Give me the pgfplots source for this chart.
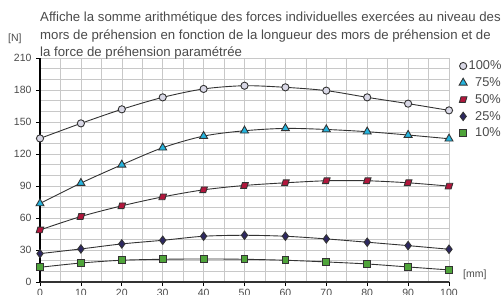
\documentclass[border=0pt]{standalone}
\usepackage{pgfplots}
\pgfplotsset{compat=1.18}
\usepackage{fontspec}
\setmainfont{Liberation Sans}
\definecolor{txt}{HTML}{4A4A4A}
\definecolor{gridc}{HTML}{C8C8C8}
\definecolor{c100}{HTML}{D9D8E6}
\definecolor{c75}{HTML}{25B4DE}
\definecolor{c50}{HTML}{B2163C}
\definecolor{c25}{HTML}{2D2862}
\definecolor{c10}{HTML}{4FA43A}
\definecolor{linec}{HTML}{333333}
\pgfdeclareplotmark{para}{%
  \pgfpathmoveto{\pgfqpoint{-1.0\pgfplotmarksize}{-0.75\pgfplotmarksize}}%
  \pgfpathlineto{\pgfqpoint{0.55\pgfplotmarksize}{-0.75\pgfplotmarksize}}%
  \pgfpathlineto{\pgfqpoint{1.0\pgfplotmarksize}{0.75\pgfplotmarksize}}%
  \pgfpathlineto{\pgfqpoint{-0.55\pgfplotmarksize}{0.75\pgfplotmarksize}}%
  \pgfpathclose\pgfusepathqfillstroke}
\pgfplotstableread{
x  a100  a75   a50   a25   a10
0  134.6 73.6  48.8  26.6  13.8
10 148.7 92.7  61.4  31.0  17.8
20 161.9 109.9 71.4  35.7  20.4
30 173.1 125.9 79.8  39.1  21.3
40 181.0 136.8 86.4  42.9  21.6
50 184.0 141.8 90.5  43.8  21.3
60 182.5 144.0 93.0  42.9  20.4
70 179.4 143.0 94.9  40.4  18.8
80 173.1 140.9 94.9  37.3  16.9
90 167.2 137.8 93.0  34.1  14.1
100 160.9 134.3 89.9 30.7  11.3
}\data
\begin{document}
\begin{tikzpicture}[font=\fontsize{13.2bp}{15bp}\selectfont]
\path[use as bounding box] (0,0) rectangle (504bp,295bp);
\begin{axis}[
  at={(40bp,13bp)}, anchor=south west,
  scale only axis, width=409bp, height=224bp,
  xmin=0, xmax=100, ymin=0, ymax=210,
  xtick={0,10,...,100}, ytick={0,30,...,210},
  minor x tick num=1, minor y tick num=2,
  grid=both,
  major grid style={gridc, line width=0.6bp},
  minor grid style={gridc, line width=0.6bp},
  axis x line=bottom, axis y line=left,
  x axis line style={-, linec, line width=1.2bp},
  y axis line style={-, black, line width=1.4bp},
  tick align=outside,
  major tick length=4bp, minor tick length=0pt,
  tick style={black, line width=0.8bp},
  ticklabel style={text=txt, font=\fontsize{10.5bp}{12bp}\selectfont},
  /pgf/number format/assume math mode=true,
  yticklabel style={xshift=-1bp},
  legend style={at={(1.0,0.975)}, anchor=north west, draw=none, fill=none,
    font=\fontsize{12.8bp}{14bp}\selectfont, text=txt, row sep=2.4bp,
    legend cell align=left, xshift=7bp, yshift=7bp,
    nodes={inner xsep=1.5bp}},
  legend image code/.code={\draw[#1, draw=linec] plot coordinates {(0.22cm,0cm)};},
  every axis plot/.append style={linec, line width=0.9bp, smooth, mark options={draw=linec, line width=0.6bp, solid}},
  clip=false,
]
\addplot[mark=*, mark size=3.6bp, mark options={fill=c100}] table[x=x,y=a100]{\data};
\addlegendentry{100\%}
\addplot[mark=triangle*, mark size=4.6bp, mark options={fill=c75}] table[x=x,y=a75]{\data};
\addlegendentry{\hspace{6.5bp}75\%}
\addplot[mark=para, mark size=3.8bp, mark options={fill=c50}] table[x=x,y=a50]{\data};
\addlegendentry{\hspace{6.5bp}50\%}
\addplot[mark=diamond*, mark size=4.2bp, mark options={fill=c25}] table[x=x,y=a25]{\data};
\addlegendentry{\hspace{6.5bp}25\%}
\addplot[mark=square*, mark size=3.4bp, mark options={fill=c10}] table[x=x,y=a10]{\data};
\addlegendentry{\hspace{6.5bp}10\%}
\end{axis}
\node[anchor=base west, text=txt, inner sep=0] at (40bp,273bp) {Affiche la somme arithmétique des forces individuelles exercées au niveau des};
\node[anchor=base west, text=txt, inner sep=0] at (40bp,255.5bp) {mors de préhension en fonction de la longueur des mors de préhension et de};
\node[anchor=base west, text=txt, inner sep=0] at (40bp,238bp) {la force de préhension paramétrée};
\node[anchor=base west, text=txt, inner sep=0, font=\fontsize{10.5bp}{12bp}\selectfont] at (8bp,253bp) {[N]};
\node[anchor=base west, text=txt, inner sep=0, font=\fontsize{10.5bp}{12bp}\selectfont] at (463bp,18bp) {[mm]};
\end{tikzpicture}
\end{document}
